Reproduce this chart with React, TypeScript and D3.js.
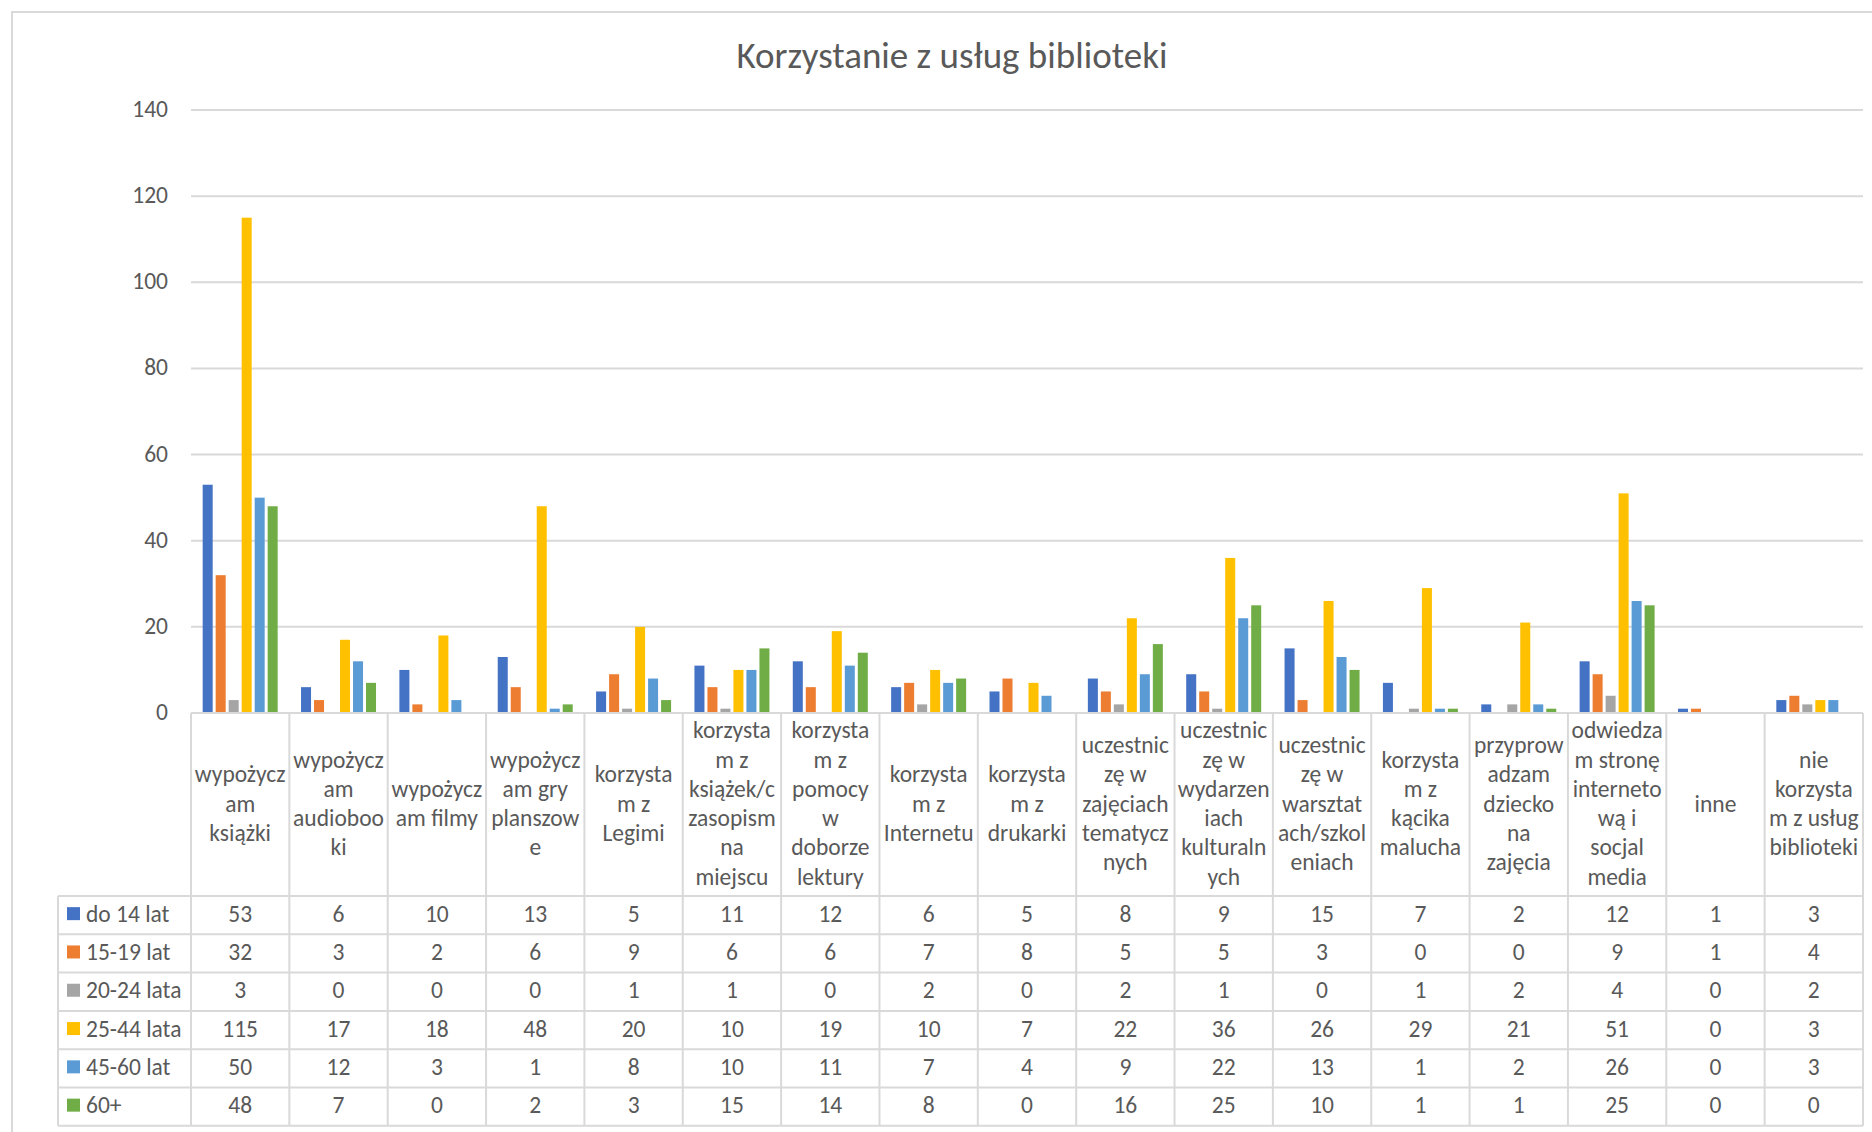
import React, { useEffect, useRef } from 'react'
import * as d3 from 'd3'

// ================================================================== //
// Data
const categories = [
    "wypożycz|am|książki",
    "wypożycz|am|audioboo|ki",
    "wypożycz|am filmy",
    "wypożycz|am gry|planszow|e",
    "korzysta|m z|Legimi",
    "korzysta|m z|książek/c|zasopism|na|miejscu",
    "korzysta|m z|pomocy|w|doborze|lektury",
    "korzysta|m z|Internetu",
    "korzysta|m z|drukarki",
    "uczestnic|zę w|zajęciach|tematycz|nych",
    "uczestnic|zę w|wydarzen|iach|kulturaln|ych",
    "uczestnic|zę w|warsztat|ach/szkol|eniach",
    "korzysta|m z|kącika|malucha",
    "przyprow|adzam|dziecko|na|zajęcia",
    "odwiedza|m stronę|interneto|wą i|socjal|media",
    "inne",
    "nie|korzysta|m z usług|biblioteki",
]

const seriesNames = ["do 14 lat", "15-19 lat", "20-24 lata", "25-44 lata", "45-60 lat", "60+"]
const seriesColors = ["#4472C4", "#ED7D31", "#A5A5A5", "#FFC000", "#5B9BD5", "#70AD47"]

const do14 = [53, 6, 10, 13, 5, 11, 12, 6, 5, 8, 9, 15, 7, 2, 12, 1, 3]
const lat15_19 = [32, 3, 2, 6, 9, 6, 6, 7, 8, 5, 5, 3, 0, 0, 9, 1, 4]
const lata20_24 = [3, 0, 0, 0, 1, 1, 0, 2, 0, 2, 1, 0, 1, 2, 4, 0, 2]
const lata25_44 = [115, 17, 18, 48, 20, 10, 19, 10, 7, 22, 36, 26, 29, 21, 51, 0, 3]
const lat45_60 = [50, 12, 3, 1, 8, 10, 11, 7, 4, 9, 22, 13, 1, 2, 26, 0, 3]
const lat60plus = [48, 7, 0, 2, 3, 15, 14, 8, 0, 16, 25, 10, 1, 1, 25, 0, 0]

const seriesValues = [do14, lat15_19, lata20_24, lata25_44, lat45_60, lat60plus]
const yTicks = [0, 20, 40, 60, 80, 100, 120, 140]

const title = "Korzystanie z usług biblioteki"

// ================================================================== //
const W = 1872, H = 1132
const FONT = "Calibri, Carlito, Lato, sans-serif"
const TEXT = "#595959"
const GRID = "#d9d9d9"
const FS = 23.5

function drawChart(node: SVGSVGElement) {
    const svg = d3.select(node)
    svg.selectAll("*").remove()

    const margin = { left: 191, right: W - 1863, top: 110 }
    const plotBottom = 713
    const headerBottom = 896
    const rowH = 38.3
    const tableLeft = 58

    const x0 = d3.scaleBand()
        .domain(categories.map((c, i) => String(i)))
        .range([margin.left, W - margin.right])
    const bw = x0.bandwidth()

    const x1 = d3.scaleBand()
        .domain(seriesNames)
        .range([bw / 2 - 37.5, bw / 2 + 37.5])
        .paddingInner(0.23)

    const y = d3.scaleLinear()
        .domain([0, 140])
        .range([plotBottom, margin.top])

    // chart frame
    svg.append("rect")
        .attr("x", 12).attr("y", 12)
        .attr("width", W).attr("height", H)
        .attr("fill", "white")
        .attr("stroke", GRID).attr("stroke-width", 2)

    // title
    svg.append("text")
        .attr("x", 952).attr("y", 55)
        .attr("text-anchor", "middle")
        .attr("dominant-baseline", "central")
        .attr("font-family", FONT)
        .attr("font-size", 37)
        .attr("fill", TEXT)
        .text(title)

    // gridlines + y labels
    const grid = svg.append("g")
    grid.selectAll("line")
        .data(yTicks)
        .enter()
        .append("line")
        .attr("x1", margin.left).attr("x2", W - margin.right)
        .attr("y1", d => y(d)).attr("y2", d => y(d))
        .attr("stroke", GRID).attr("stroke-width", 2)
    grid.selectAll("text")
        .data(yTicks)
        .enter()
        .append("text")
        .attr("x", 168)
        .attr("y", d => y(d) - 1)
        .attr("text-anchor", "end")
        .attr("dominant-baseline", "central")
        .attr("font-family", FONT)
        .attr("font-size", FS)
        .attr("fill", TEXT)
        .text(d => d)

    // bars
    const groups = svg.append("g")
        .selectAll("g")
        .data(categories.map((c, i) => i))
        .enter()
        .append("g")
        .attr("transform", i => `translate(${x0(String(i))},0)`)
    groups.selectAll("rect")
        .data(i => seriesNames.map((s, k) => ({ s, k, v: seriesValues[k][i] })))
        .enter()
        .append("rect")
        .attr("x", d => x1(d.s))
        .attr("width", x1.bandwidth())
        .attr("y", d => y(d.v))
        .attr("height", d => plotBottom - y(d.v))
        .attr("fill", d => seriesColors[d.k])

    // data table
    const table = svg.append("g")
    const tableBottom = headerBottom + rowH * seriesNames.length
    const colEdges = categories.map((c, i) => x0(String(i))).concat([W - margin.right])

    table.selectAll(".vline")
        .data(colEdges)
        .enter()
        .append("line")
        .attr("class", "vline")
        .attr("x1", d => d).attr("x2", d => d)
        .attr("y1", plotBottom).attr("y2", tableBottom)
        .attr("stroke", GRID).attr("stroke-width", 2)
    table.append("line")
        .attr("x1", tableLeft).attr("x2", tableLeft)
        .attr("y1", headerBottom).attr("y2", tableBottom)
        .attr("stroke", GRID).attr("stroke-width", 2)
    table.selectAll(".hline")
        .data(d3.range(seriesNames.length + 1))
        .enter()
        .append("line")
        .attr("class", "hline")
        .attr("x1", tableLeft).attr("x2", W - margin.right)
        .attr("y1", r => headerBottom + r * rowH).attr("y2", r => headerBottom + r * rowH)
        .attr("stroke", GRID).attr("stroke-width", 2)
    // axis line
    svg.append("line")
        .attr("x1", margin.left).attr("x2", W - margin.right)
        .attr("y1", plotBottom).attr("y2", plotBottom)
        .attr("stroke", GRID).attr("stroke-width", 2)

    // header labels
    const lineH = 29.3
    const headerMid = (plotBottom + headerBottom) / 2 - 1
    const header = table.selectAll(".head")
        .data(categories.map((c, i) => ({ lines: c.split("|"), i })))
        .enter()
        .append("text")
        .attr("class", "head")
        .attr("font-family", FONT)
        .attr("font-size", FS)
        .attr("fill", TEXT)
        .attr("text-anchor", "middle")
        .attr("dominant-baseline", "central")
    header.selectAll("tspan")
        .data(d => d.lines.map((l, j) => ({
            l, cx: x0(String(d.i)) + bw / 2,
            cy: headerMid + (j - (d.lines.length - 1) / 2) * lineH
        })))
        .enter()
        .append("tspan")
        .attr("x", d => d.cx)
        .attr("y", d => d.cy)
        .text(d => d.l)

    // rows: legend key + values
    seriesNames.forEach((name, k) => {
        const cy = headerBottom + rowH * (k + 0.5) - 1.5
        table.append("rect")
            .attr("x", 67).attr("y", cy - 6.5)
            .attr("width", 13).attr("height", 13)
            .attr("fill", seriesColors[k])
        table.append("text")
            .attr("x", 86).attr("y", cy)
            .attr("dominant-baseline", "central")
            .attr("font-family", FONT)
            .attr("font-size", FS)
            .attr("fill", TEXT)
            .text(name)
        table.append("g")
            .selectAll("text")
            .data(seriesValues[k])
            .enter()
            .append("text")
            .attr("x", (v, i) => x0(String(i)) + bw / 2)
            .attr("y", cy)
            .attr("text-anchor", "middle")
            .attr("dominant-baseline", "central")
            .attr("font-family", FONT)
            .attr("font-size", FS)
            .attr("fill", TEXT)
            .text(v => v)
    })
}

export default function App() {
    const ref = useRef<SVGSVGElement>(null)
    useEffect(() => {
        if (ref.current) drawChart(ref.current)
    }, [])
    return (
        <svg ref={ref} width={W} height={H}
            style={{ position: "absolute", left: 0, top: 0, background: "white" }} />
    )
}
